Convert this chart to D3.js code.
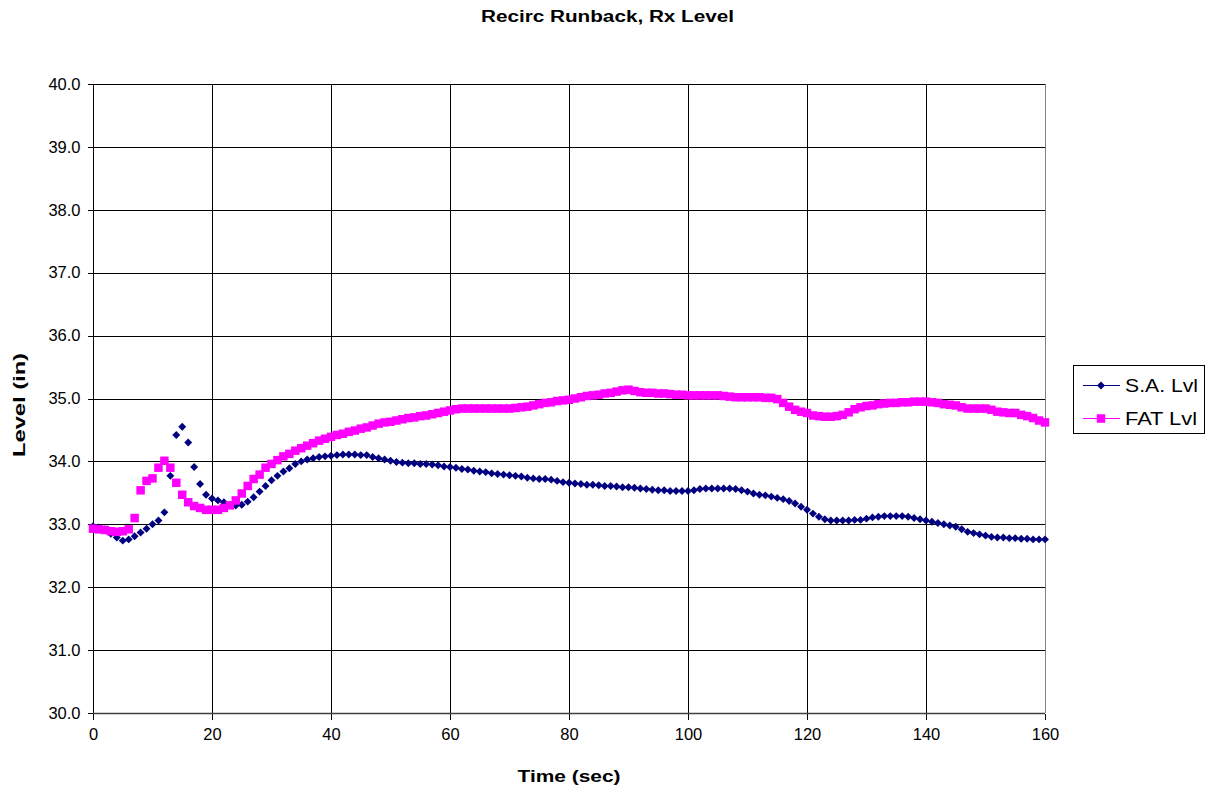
<!DOCTYPE html>
<html>
<head>
<meta charset="utf-8">
<script src="https://cdn.jsdelivr.net/npm/d3@7"></script>
<style>
  html, body { margin: 0; padding: 0; background: #fff; }
  svg { display: block; }
  text { font-family: "Liberation Sans", Arial, sans-serif; fill: #000; }
</style>
</head>
<body>
<svg id="chart" width="1214" height="792"></svg>
<script>
// Reactor level during recirculation runback, sampled once per second (0..160 s)
const saLvl = [
  32.97, 32.95, 32.92, 32.85, 32.79, 32.74, 32.76, 32.81, 32.87, 32.93,
  33.00, 33.06, 33.19, 33.77, 34.42, 34.55, 34.30, 33.91, 33.64, 33.47,
  33.41, 33.38, 33.35, 33.31, 33.30, 33.31, 33.36, 33.43, 33.52, 33.61,
  33.70, 33.77, 33.84, 33.89, 33.96, 34.00, 34.03, 34.05, 34.07, 34.08,
  34.09, 34.10, 34.11, 34.11, 34.11, 34.10, 34.10, 34.07, 34.05, 34.03,
  34.01, 33.99, 33.98, 33.97, 33.97, 33.96, 33.96, 33.95, 33.94, 33.92,
  33.91, 33.90, 33.88, 33.87, 33.85, 33.84, 33.83, 33.81, 33.80, 33.79,
  33.78, 33.77, 33.76, 33.74, 33.73, 33.72, 33.72, 33.71, 33.69, 33.67,
  33.66, 33.65, 33.64, 33.63, 33.63, 33.62, 33.61, 33.61, 33.60, 33.59,
  33.59, 33.58, 33.57, 33.56, 33.55, 33.54, 33.54, 33.53, 33.53, 33.53,
  33.53, 33.54, 33.56, 33.57, 33.57, 33.57, 33.57, 33.57, 33.56, 33.54,
  33.52, 33.49, 33.47, 33.46, 33.44, 33.42, 33.40, 33.37, 33.33, 33.28,
  33.23, 33.17, 33.12, 33.08, 33.06, 33.06, 33.06, 33.06, 33.07, 33.07,
  33.09, 33.11, 33.12, 33.13, 33.13, 33.13, 33.13, 33.12, 33.10, 33.08,
  33.06, 33.04, 33.02, 33.00, 32.98, 32.96, 32.92, 32.88, 32.86, 32.84,
  32.82, 32.80, 32.79, 32.79, 32.78, 32.78, 32.77, 32.77, 32.76, 32.76,
  32.76
];

const fatLvl = [
  32.93, 32.92, 32.91, 32.89, 32.88, 32.89, 32.92, 33.10, 33.54, 33.69,
  33.73, 33.90, 34.01, 33.90, 33.66, 33.47, 33.35, 33.29, 33.26, 33.23,
  33.23, 33.23, 33.26, 33.30, 33.38, 33.49, 33.61, 33.72, 33.79, 33.90,
  33.96, 34.02, 34.08, 34.12, 34.17, 34.21, 34.25, 34.29, 34.33, 34.36,
  34.39, 34.42, 34.44, 34.47, 34.49, 34.52, 34.54, 34.57, 34.60, 34.62,
  34.63, 34.65, 34.67, 34.69, 34.70, 34.72, 34.73, 34.75, 34.77, 34.79,
  34.81, 34.83, 34.84, 34.84, 34.84, 34.84, 34.84, 34.84, 34.84, 34.84,
  34.84, 34.85, 34.86, 34.87, 34.89, 34.91, 34.93, 34.94, 34.96, 34.97,
  34.98, 35.00, 35.02, 35.04, 35.05, 35.06, 35.08, 35.09, 35.11, 35.13,
  35.14, 35.12, 35.10, 35.09, 35.09, 35.08, 35.08, 35.07, 35.06, 35.06,
  35.05, 35.05, 35.05, 35.05, 35.05, 35.05, 35.04, 35.03, 35.02, 35.02,
  35.02, 35.02, 35.02, 35.01, 35.01, 34.99, 34.93, 34.87, 34.82, 34.79,
  34.77, 34.73, 34.72, 34.71, 34.71, 34.72, 34.74, 34.78, 34.83, 34.86,
  34.88, 34.89, 34.91, 34.92, 34.93, 34.93, 34.94, 34.94, 34.95, 34.95,
  34.95, 34.94, 34.93, 34.91, 34.90, 34.89, 34.86, 34.84, 34.84, 34.84,
  34.84, 34.82, 34.79, 34.78, 34.77, 34.77, 34.74, 34.72, 34.69, 34.65,
  34.62
];

const seriesNames = ["S.A. Lvl", "FAT Lvl"];
const seriesColors = ["#000080", "#FF00FF"];
const xTicks = [0, 20, 40, 60, 80, 100, 120, 140, 160];
const yTicks = [30, 31, 32, 33, 34, 35, 36, 37, 38, 39, 40];
const sampleStep = 1; // seconds between samples

const svg = d3.select("#chart");
const plot = { left: 93, right: 1045, top: 84, bottom: 713 };

const x = d3.scaleLinear().domain([0, 160]).range([plot.left, plot.right]);
const y = d3.scaleLinear().domain([30, 40]).range([plot.bottom, plot.top]);

// Title
svg.append("text")
  .attr("x", 607.5).attr("y", 21.5)
  .attr("text-anchor", "middle")
  .attr("font-size", 16).attr("font-weight", "bold")
  .attr("textLength", 253).attr("lengthAdjust", "spacingAndGlyphs")
  .text("Recirc Runback, Rx Level");

// Grid lines
const grid = svg.append("g").attr("stroke", "#000").attr("stroke-width", 1).attr("shape-rendering", "crispEdges");
grid.selectAll("line.h").data(yTicks).join("line")
  .attr("x1", plot.left).attr("x2", plot.right)
  .attr("y1", d => Math.round(y(d)) + 0.5).attr("y2", d => Math.round(y(d)) + 0.5);
grid.selectAll("line.v").data(xTicks.slice(1)).join("line")
  .attr("y1", plot.top).attr("y2", plot.bottom)
  .attr("x1", d => Math.round(x(d)) + 0.5).attr("x2", d => Math.round(x(d)) + 0.5)
  .attr("stroke", d => d === 160 ? "#808080" : "#000");

// Axes
const yAxis = d3.axisLeft(y).tickValues(yTicks).tickFormat(d3.format(".1f")).tickSize(6).tickPadding(7);
const gy = svg.append("g").attr("transform", `translate(${plot.left + 0.5},0)`).call(yAxis);
gy.selectAll("text").attr("font-size", 16.5).style("font-family", '"Liberation Sans", Arial, sans-serif').attr("fill", "#000");
gy.selectAll("line, path").attr("stroke", "#000").attr("shape-rendering", "crispEdges");
gy.select(".domain").attr("d", `M-6,${plot.top}H0V${plot.bottom}`);

const xAxis = d3.axisBottom(x).tickValues(xTicks).tickFormat(d3.format("d")).tickSize(6).tickPadding(9);
const gx = svg.append("g").attr("transform", `translate(0,${plot.bottom + 0.5})`).call(xAxis);
gx.selectAll("text").attr("font-size", 16.5).style("font-family", '"Liberation Sans", Arial, sans-serif').attr("fill", "#000");
gx.selectAll("line").attr("stroke", "#000").attr("shape-rendering", "crispEdges");
gx.select(".domain").attr("stroke", "#404040").attr("stroke-width", 1.5).attr("d", `M${plot.left},0H${plot.right}`);

// Axis titles
svg.append("text")
  .attr("x", 569).attr("y", 781.5)
  .attr("text-anchor", "middle")
  .attr("font-size", 16).attr("font-weight", "bold")
  .attr("textLength", 103).attr("lengthAdjust", "spacingAndGlyphs")
  .text("Time (sec)");

svg.append("text")
  .attr("transform", "translate(25,405) rotate(-90)")
  .attr("text-anchor", "middle")
  .attr("font-size", 16).attr("font-weight", "bold")
  .attr("textLength", 104).attr("lengthAdjust", "spacingAndGlyphs")
  .text("Level (in)");

// Marker shapes
const diamond = d3.symbol().type(d3.symbolDiamond2).size(40);
const square = d3.symbol().type(d3.symbolSquare).size(72);
const shapes = [diamond, square];

const seriesData = [saLvl, fatLvl];
seriesData.forEach((vals, si) => {
  svg.append("g")
    .selectAll("path")
    .data(vals)
    .join("path")
    .attr("d", shapes[si])
    .attr("transform", (v, i) => `translate(${x(i * sampleStep)},${y(v)})`)
    .attr("fill", seriesColors[si]);
});

// Legend
const legend = svg.append("g");
legend.append("rect")
  .attr("x", 1073.5).attr("y", 365.5).attr("width", 131).attr("height", 68)
  .attr("fill", "#fff").attr("stroke", "#000").attr("stroke-width", 1);
const rowsY = [385, 418];
const labelLen = [73, 72];
seriesNames.forEach((name, i) => {
  const g = legend.append("g").attr("transform", `translate(0,${rowsY[i]})`);
  g.append("line").attr("x1", 1083).attr("x2", 1120).attr("y1", 0.5).attr("y2", 0.5)
    .attr("stroke", seriesColors[i]).attr("stroke-width", 1);
  g.append("path").attr("d", shapes[i]).attr("transform", "translate(1101,0.5)").attr("fill", seriesColors[i]);
  g.append("text").attr("x", 1125).attr("y", 6.5)
    .attr("font-size", 18)
    .attr("textLength", labelLen[i]).attr("lengthAdjust", "spacingAndGlyphs")
    .text(name);
});
</script>
</body>
</html>
